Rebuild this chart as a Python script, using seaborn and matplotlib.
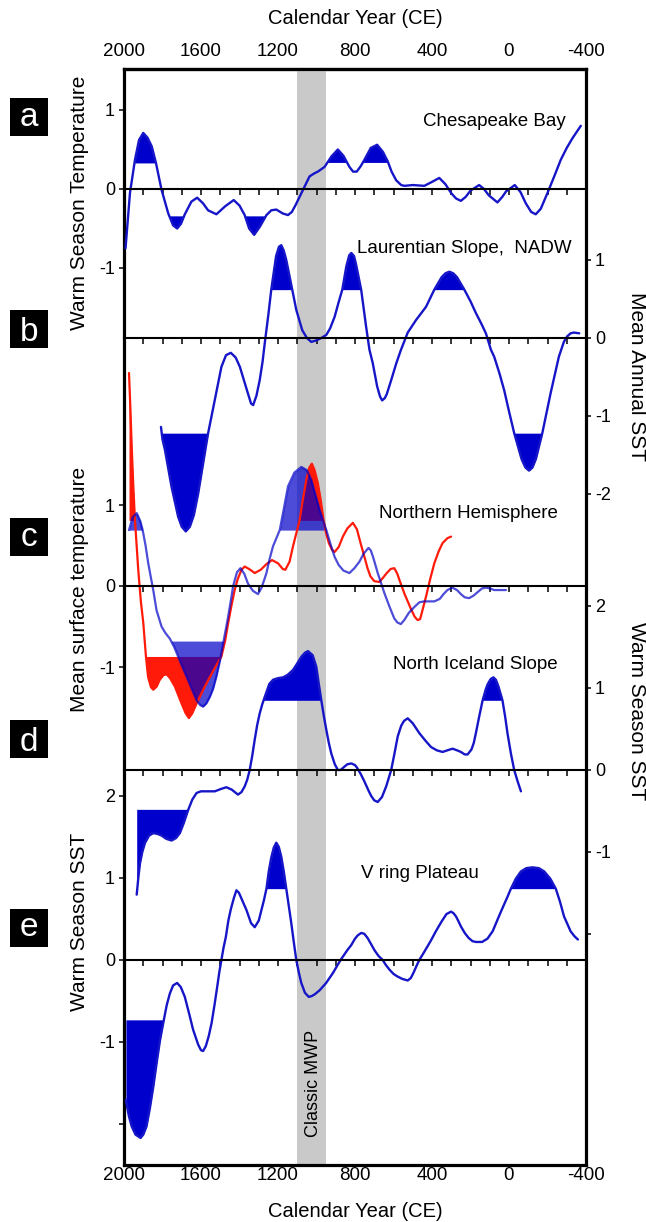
import matplotlib
matplotlib.use("Agg")
import matplotlib.pyplot as plt
from matplotlib.patches import Rectangle
import numpy as np
import seaborn as sns

# ---- values (year CE, anomaly in panel units) ----
ches_year = [1992, 1969, 1943, 1922, 1900, 1878, 1856, 1834, 1805, 1770, 1745, 1724,
             1704, 1684, 1650, 1620, 1590, 1563, 1520, 1475, 1430, 1400, 1373, 1350,
             1324, 1295, 1260, 1235, 1209, 1175, 1148, 1128, 1108, 1070, 1036, 1010,
             993, 958, 923, 889, 860, 829, 810, 791, 770, 751, 718, 685, 655, 630, 610,
             586, 560, 543, 500, 440, 400, 362, 330, 301, 275, 250, 225, 200, 155, 130,
             105, 60, 35, 15, -30, -60, -87, -115, -139, -165, -200, -235, -269, -300,
             -329, -373]
ches_temp = [-0.75, -0.05, 0.37, 0.62, 0.71, 0.65, 0.54, 0.33, -0.01, -0.31, -0.46, -0.50,
             -0.44, -0.32, -0.16, -0.11, -0.18, -0.27, -0.32, -0.22, -0.14, -0.21, -0.33,
             -0.50, -0.58, -0.48, -0.33, -0.27, -0.26, -0.31, -0.33, -0.29, -0.20, -0.01,
             0.16, 0.20, 0.22, 0.28, 0.41, 0.50, 0.42, 0.28, 0.22, 0.22, 0.29, 0.37, 0.52,
             0.56, 0.47, 0.35, 0.22, 0.11, 0.05, 0.04, 0.05, 0.04, 0.09, 0.14, 0.06, -0.05,
             -0.12, -0.15, -0.10, -0.02, 0.05, 0.00, -0.08, -0.17, -0.10, -0.03, 0.05,
             -0.04, -0.18, -0.29, -0.32, -0.25, -0.05, 0.16, 0.37, 0.52, 0.64, 0.80]

laur_year = [1808, 1800, 1787, 1753, 1719, 1700, 1679, 1658, 1637, 1615, 1597, 1563, 1528,
             1494, 1470, 1445, 1420, 1398, 1360, 1340, 1329, 1312, 1295, 1280, 1268, 1250,
             1235, 1210, 1195, 1183, 1170, 1157, 1126, 1105, 1074, 1050, 1027, 1000, 975,
             949, 930, 906, 886, 866, 845, 830, 819, 805, 795, 768, 742, 725, 708, 685, 670,
             659, 645, 635, 612, 585, 561, 526, 483, 431, 388, 350, 330, 310, 290, 270, 232,
             200, 172, 145, 120, 94, 77, 50, 25, 0, -27, -65, -85, -104, -122, -140, -173,
             -216, -259, -285, -302, -320, -337, -365]
laur_sst = [-1.14, -1.30, -1.44, -1.91, -2.29, -2.42, -2.48, -2.42, -2.27, -2.00, -1.73,
            -1.22, -0.79, -0.37, -0.22, -0.19, -0.25, -0.37, -0.68, -0.84, -0.86, -0.74,
            -0.54, -0.30, -0.05, 0.30, 0.62, 1.05, 1.17, 1.19, 1.12, 1.00, 0.62, 0.36, 0.10,
            0.00, -0.05, -0.03, 0.00, 0.04, 0.12, 0.27, 0.45, 0.62, 0.92, 1.06, 1.09, 1.05,
            0.95, 0.62, 0.14, -0.15, -0.32, -0.62, -0.75, -0.80, -0.77, -0.72, -0.54, -0.32,
            -0.15, 0.07, 0.23, 0.40, 0.62, 0.78, 0.83, 0.85, 0.83, 0.78, 0.62, 0.47, 0.32,
            0.19, 0.06, -0.15, -0.24, -0.45, -0.67, -0.94, -1.22, -1.55, -1.66, -1.70,
            -1.66, -1.55, -1.22, -0.71, -0.24, -0.05, 0.02, 0.06, 0.07, 0.06]

nh_red_year = [1974, 1967, 1960, 1952, 1943, 1926, 1912, 1900, 1886, 1875, 1860, 1848, 1830,
               1815, 1795, 1779, 1760, 1736, 1701, 1680, 1663, 1645, 1623, 1580, 1537, 1494,
               1475, 1459, 1440, 1425, 1410, 1390, 1373, 1350, 1321, 1290, 1260, 1231, 1200,
               1175, 1162, 1140, 1122, 1105, 1088, 1070, 1053, 1038, 1024, 1010, 993, 978,
               963, 950, 936, 920, 906, 885, 863, 840, 811, 790, 770, 751, 735, 720, 700,
               674, 655, 635, 615, 596, 580, 570, 544, 510, 490, 475, 462, 455, 431, 410,
               388, 365, 345, 320, 301]
nh_red_temp = [2.63, 2.20, 1.72, 1.25, 0.81, 0.20, -0.20, -0.45, -0.87, -1.12, -1.25, -1.28,
               -1.24, -1.16, -1.10, -1.09, -1.14, -1.24, -1.45, -1.57, -1.63, -1.57, -1.45,
               -1.24, -1.05, -0.87, -0.68, -0.46, -0.22, -0.05, 0.08, 0.20, 0.24, 0.21, 0.16,
               0.20, 0.27, 0.32, 0.28, 0.21, 0.20, 0.30, 0.49, 0.65, 0.81, 1.08, 1.31, 1.46,
               1.51, 1.43, 1.27, 1.06, 0.81, 0.65, 0.53, 0.45, 0.42, 0.48, 0.61, 0.71, 0.78,
               0.70, 0.52, 0.36, 0.22, 0.12, 0.06, 0.05, 0.10, 0.16, 0.21, 0.22, 0.15, 0.08,
               -0.09, -0.28, -0.38, -0.42, -0.41, -0.35, -0.13, 0.08, 0.28, 0.43, 0.53, 0.59,
               0.61]

nh_blue_year = [1974, 1955, 1934, 1915, 1903, 1888, 1874, 1860, 1848, 1831, 1805, 1785, 1762,
                1740, 1719, 1700, 1675, 1650, 1623, 1605, 1589, 1572, 1554, 1537, 1520, 1502,
                1485, 1470, 1459, 1445, 1433, 1413, 1395, 1375, 1356, 1330, 1304, 1285, 1260,
                1245, 1226, 1191, 1170, 1148, 1115, 1079, 1050, 1027, 1005, 984, 965, 949,
                925, 906, 885, 860, 829, 803, 777, 755, 730, 718, 705, 682, 665, 647, 620,
                596, 580, 562, 544, 520, 492, 465, 440, 388, 360, 340, 320, 295, 270, 250,
                230, 207, 185, 165, 140, 120, 100, 77, 45, 16]
nh_blue_temp = [0.69, 0.85, 0.90, 0.80, 0.69, 0.50, 0.28, 0.10, -0.05, -0.30, -0.50, -0.58,
                -0.65, -0.75, -0.87, -0.98, -1.12, -1.26, -1.41, -1.47, -1.49, -1.45, -1.37,
                -1.27, -1.12, -0.93, -0.71, -0.52, -0.38, -0.18, 0.00, 0.17, 0.22, 0.15, 0.03,
                -0.06, -0.10, -0.02, 0.16, 0.32, 0.49, 0.69, 0.95, 1.23, 1.40, 1.47, 1.43,
                1.31, 1.12, 0.94, 0.80, 0.69, 0.50, 0.36, 0.26, 0.19, 0.16, 0.22, 0.30, 0.40,
                0.47, 0.44, 0.35, 0.16, 0.04, -0.09, -0.26, -0.40, -0.45, -0.47, -0.42, -0.33,
                -0.26, -0.20, -0.19, -0.19, -0.16, -0.10, -0.05, -0.02, -0.05, -0.10, -0.14,
                -0.15, -0.12, -0.08, -0.03, -0.02, -0.03, -0.05, -0.05, -0.05]

nis_year = [1934, 1925, 1917, 1905, 1891, 1870, 1848, 1825, 1805, 1780, 1753, 1730, 1710,
            1690, 1667, 1645, 1623, 1600, 1580, 1528, 1495, 1468, 1440, 1408, 1390, 1373,
            1360, 1347, 1334, 1321, 1308, 1295, 1282, 1269, 1245, 1226, 1200, 1174, 1150,
            1122, 1100, 1079, 1060, 1044, 1020, 1001, 988, 975, 962, 949, 936, 923, 905,
            889, 875, 860, 840, 819, 800, 790, 770, 751, 730, 715, 700, 682, 660, 638, 612,
            595, 578, 560, 545, 526, 500, 466, 435, 405, 375, 345, 320, 293, 270, 250, 230,
            215, 195, 183, 172, 155, 137, 120, 110, 95, 81, 68, 55, 34, 20, 8, -10, -27,
            -45, -62]
nis_sst = [-1.52, -1.30, -1.14, -1.00, -0.89, -0.80, -0.77, -0.78, -0.80, -0.84, -0.86, -0.83,
           -0.77, -0.65, -0.49, -0.36, -0.28, -0.26, -0.26, -0.26, -0.23, -0.21, -0.24,
           -0.30, -0.27, -0.20, -0.12, 0.00, 0.17, 0.37, 0.55, 0.69, 0.80, 0.89, 1.05, 1.10,
           1.12, 1.13, 1.16, 1.22, 1.30, 1.38, 1.43, 1.45, 1.40, 1.26, 1.05, 0.85, 0.66,
           0.49, 0.33, 0.20, 0.07, 0.00, 0.00, 0.03, 0.07, 0.08, 0.06, 0.03, -0.05, -0.14,
           -0.25, -0.32, -0.37, -0.39, -0.33, -0.20, 0.00, 0.20, 0.41, 0.54, 0.60, 0.63,
           0.57, 0.45, 0.36, 0.28, 0.24, 0.22, 0.24, 0.26, 0.24, 0.22, 0.19, 0.19, 0.25,
           0.33, 0.45, 0.65, 0.85, 0.99, 1.05, 1.11, 1.13, 1.10, 1.02, 0.85, 0.65, 0.45,
           0.20, 0.00, -0.14, -0.26]

vor_year = [1990, 1975, 1960, 1940, 1914, 1900, 1883, 1865, 1848, 1830, 1813, 1793, 1778,
            1762, 1745, 1724, 1705, 1684, 1660, 1641, 1615, 1600, 1589, 1575, 1560, 1545,
            1530, 1516, 1505, 1494, 1483, 1471, 1458, 1445, 1430, 1416, 1403, 1390, 1377,
            1364, 1340, 1321, 1300, 1286, 1273, 1260, 1248, 1235, 1222, 1209, 1196, 1183,
            1170, 1157, 1144, 1131, 1118, 1105, 1092, 1079, 1060, 1040, 1025, 1010, 984,
            950, 915, 895, 875, 840, 820, 800, 786, 768, 752, 735, 718, 699, 678, 656, 640,
            620, 600, 580, 555, 526, 510, 495, 480, 466, 440, 405, 380, 350, 325, 301, 288,
            275, 262, 250, 230, 210, 190, 172, 140, 112, 85, 60, 40, 25, 8, -10, -35, -62,
            -90, -122, -155, -183, -215, -243, -265, -286, -305, -320, -340, -358]
vor_sst = [-1.71, -1.90, -2.03, -2.13, -2.17, -2.13, -2.03, -1.80, -1.55, -1.25, -0.98, -0.73,
           -0.55, -0.41, -0.31, -0.28, -0.33, -0.45, -0.67, -0.85, -1.03, -1.10, -1.11,
           -1.05, -0.93, -0.77, -0.55, -0.33, -0.15, 0.00, 0.15, 0.28, 0.48, 0.62, 0.75,
           0.85, 0.82, 0.75, 0.68, 0.61, 0.45, 0.40, 0.48, 0.61, 0.73, 0.87, 1.08, 1.25,
           1.37, 1.43, 1.38, 1.26, 1.08, 0.87, 0.66, 0.45, 0.22, 0.00, -0.15, -0.28, -0.40,
           -0.45, -0.44, -0.42, -0.37, -0.28, -0.16, -0.08, 0.00, 0.12, 0.18, 0.26, 0.30,
           0.33, 0.32, 0.27, 0.20, 0.12, 0.05, 0.00, -0.06, -0.12, -0.17, -0.20, -0.23,
           -0.25, -0.22, -0.15, -0.07, 0.00, 0.10, 0.24, 0.35, 0.47, 0.56, 0.59, 0.57, 0.53,
           0.47, 0.41, 0.33, 0.27, 0.23, 0.22, 0.22, 0.26, 0.35, 0.49, 0.60, 0.68, 0.77,
           0.87, 0.99, 1.08, 1.12, 1.13, 1.12, 1.08, 0.99, 0.87, 0.71, 0.53, 0.43, 0.35,
           0.29, 0.25]

# shaded excursions: (from year, to year, threshold, side)
ches_shade = [(2000, 1800, 0.33, "above"), (1800, 1650, -0.34, "below"),
              (1400, 1250, -0.34, "below"), (1000, 600, 0.33, "above")]
laur_shade = [(1850, 1500, -1.22, "below"), (1300, 1100, 0.62, "above"),
              (900, 700, 0.62, "above"), (450, 150, 0.62, "above"),
              (100, -250, -1.22, "below")]
nh_red_shade = [(2000, 1920, 0.81, "above"), (1900, 1480, -0.87, "below"),
                (1150, 900, 0.81, "above")]
nh_blue_shade = [(2000, 1880, 0.69, "above"), (1800, 1450, -0.68, "below"),
                 (1250, 900, 0.69, "above")]
nis_shade = [(2000, 1600, -0.48, "below"), (1300, 950, 0.85, "above"),
             (200, 0, 0.85, "above")]
vor_shade = [(2000, 1750, -0.73, "below"), (1300, 1100, 0.87, "above"),
             (100, -300, 0.87, "above")]

year_ticks = [2000, 1600, 1200, 800, 400, 0, -400]
mwp = (1100, 950)

BLUE = "#1616c8"
BLUE_FILL = "#0000cd"
SOFT = "#0000c8"
RED = "#ff1a0a"
GREY = "#c9c9c9"

sns.set_style("white")
plt.rcParams["font.family"] = ["Liberation Sans", "DejaVu Sans"]
plt.rcParams["text.color"] = "black"
plt.rcParams["axes.labelcolor"] = "black"
plt.rcParams["xtick.color"] = "black"
plt.rcParams["ytick.color"] = "black"

W, H = 646, 1222
L, R, T, B = 124, 586, 69, 1165
rect = [L / W, 1 - B / H, (R - L) / W, (B - T) / H]

fig = plt.figure(figsize=(W / 100, H / 100), dpi=100)

frame = fig.add_axes(rect)
frame.set_xlim(2000, -400)
frame.set_ylim(0, 1)
frame.set_yticks([])
frame.axvspan(*mwp, color=GREY, lw=0)
for s in frame.spines.values():
    s.set_linewidth(2.3)
    s.set_color("black")
frame.set_xticks(year_ticks, [str(t) for t in year_ticks])
frame.tick_params(axis="x", length=0, pad=1.5, labelsize=13.5)
frame.set_xlabel("Calendar Year (CE)", fontsize=14.5)
frame.xaxis.set_label_coords(0.5, -0.034)
top = frame.secondary_xaxis("top")
top.set_xticks(year_ticks, [str(t) for t in year_ticks])
top.tick_params(length=0, pad=6.5, labelsize=13.5)
top.spines["top"].set_linewidth(2.3)
fig.text((L + R) / 2 / W, 1 - 18 / H, "Calendar Year (CE)", ha="center", va="center",
         fontsize=14.5)


def shade(ax, years, vals, windows, color, alpha=1.0):
    years = np.asarray(years, float)
    vals = np.asarray(vals, float)
    for y0, y1, thr, side in windows:
        inside = (years <= y0) & (years >= y1)
        mask = inside & ((vals >= thr) if side == "above" else (vals <= thr))
        ax.fill_between(years, vals, thr, where=mask, interpolate=True,
                        color=color, alpha=alpha, lw=0)


def panel(zero_px, unit_px):
    ax = fig.add_axes(rect)
    ax.patch.set_alpha(0)
    ax.set_xlim(2000, -400)
    ax.set_ylim((zero_px - B) / unit_px, (zero_px - T) / unit_px)
    return ax


def dress(ax, side, ticks, labels, ylabel, label_y):
    for name in ("top", "left", "right"):
        ax.spines[name].set_visible(False)
    ax.spines["bottom"].set_position(("data", 0))
    ax.spines["bottom"].set_linewidth(1.5)
    ax.spines["bottom"].set_color("black")
    ax.set_xticks(np.arange(1900, -400, -100))
    ax.tick_params(axis="x", bottom=True, top=False, direction="out", length=4,
                   width=1.1, color="black", labelbottom=False)
    ax.set_xlabel("")
    if side == "right":
        ax.yaxis.tick_right()
        ax.yaxis.set_label_position("right")
        ax.tick_params(axis="y", right=True, left=False)
    else:
        ax.tick_params(axis="y", left=True, right=False)
    ax.set_yticks(ticks, labels)
    ax.tick_params(axis="y", direction="out", length=3.5, width=1.1, color="black",
                   labelsize=13, pad=3)
    ax.set_ylabel(ylabel, fontsize=15, rotation=90 if side == "left" else 270)
    ax.yaxis.label.set_va("bottom")
    x = (89 - L) / (R - L) if side == "left" else (627 - L) / (R - L)
    ax.yaxis.set_label_coords(x, (B - label_y) / (B - T))


# a: Chesapeake Bay
ax_a = panel(189, 79)
shade(ax_a, ches_year, ches_temp, ches_shade, BLUE_FILL)
sns.lineplot(x=ches_year, y=ches_temp, ax=ax_a, color=BLUE, lw=1.7, estimator=None)
dress(ax_a, "left", [-1, 0, 1], ["-1", "0", "1"], "Warm Season Temperature", 203)
ax_a.text(75, 0.85, "Chesapeake Bay", ha="center", va="center", fontsize=13.5)

# b: Laurentian Slope
ax_b = panel(338, 78)
shade(ax_b, laur_year, laur_sst, laur_shade, BLUE_FILL)
sns.lineplot(x=laur_year, y=laur_sst, ax=ax_b, color=BLUE, lw=1.7, estimator=None)
dress(ax_b, "right", [-2, -1, 0, 1], ["-2", "-1", "0", "1"], "Mean Annual SST", 376)
ax_b.text(234, 1.15, "Laurentian Slope,  NADW", ha="center", va="center", fontsize=13.5)

# c: Northern Hemisphere
ax_c = panel(586, 81)
shade(ax_c, nh_red_year, nh_red_temp, nh_red_shade, RED)
sns.lineplot(x=nh_red_year, y=nh_red_temp, ax=ax_c, color=RED, lw=1.6, estimator=None)
shade(ax_c, nh_blue_year, nh_blue_temp, nh_blue_shade, SOFT, alpha=0.7)
sns.lineplot(x=nh_blue_year, y=nh_blue_temp, ax=ax_c, color=SOFT, alpha=0.7, lw=1.6,
             estimator=None)
dress(ax_c, "left", [-1, 0, 1], ["-1", "0", "1"], "Mean surface temperature", 589)
ax_c.text(213, 0.89, "Northern Hemisphere", ha="center", va="center", fontsize=13.5)

# d: North Iceland Slope
ax_d = panel(770, 82)
shade(ax_d, nis_year, nis_sst, nis_shade, BLUE_FILL)
sns.lineplot(x=nis_year, y=nis_sst, ax=ax_d, color=BLUE, lw=1.7, estimator=None)
dress(ax_d, "right", [-2, -1, 0, 1, 2], ["", "-1", "0", "1", "2"], "Warm Season SST", 711)
ax_d.text(177, 1.29, "North Iceland Slope", ha="center", va="center", fontsize=13.5)

# e: Voring Plateau
ax_e = panel(960, 82)
shade(ax_e, vor_year, vor_sst, vor_shade, BLUE_FILL)
sns.lineplot(x=vor_year, y=vor_sst, ax=ax_e, color=BLUE, lw=1.7, estimator=None)
dress(ax_e, "left", [-2, -1, 0, 1, 2], ["", "-1", "0", "1", "2"], "Warm Season SST", 922)
ax_e.text(462, 1.05, "V ring Plateau", ha="center", va="center", fontsize=13.5)
ax_e.text(1016, -1.5, "Classic MWP", ha="center", va="center", rotation=90, fontsize=13)

# panel letters in black boxes
for letter, cy, base in [("a", 117, 125.5), ("b", 329, 341), ("c", 537, 545.5),
                         ("d", 739, 751), ("e", 928, 936.5)]:
    fig.add_artist(Rectangle((10 / W, 1 - (cy + 19) / H), 38 / W, 38 / H,
                             transform=fig.transFigure, facecolor="black", lw=0))
    fig.text(29 / W, 1 - base / H, letter, color="white", fontsize=24,
             ha="center", va="baseline")

fig.savefig("out.png", dpi=100)
